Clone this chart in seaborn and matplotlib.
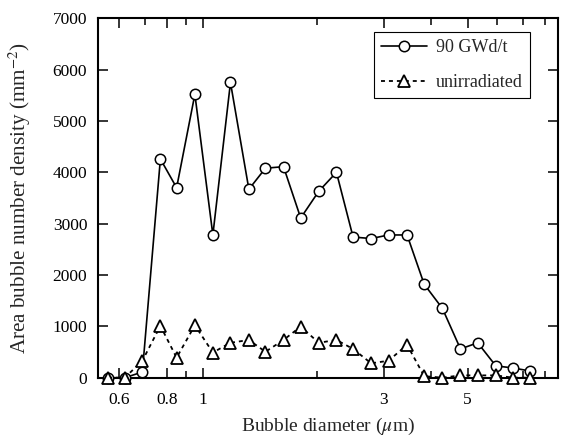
import numpy as np
import pandas as pd
import matplotlib
matplotlib.use("Agg")
import matplotlib.pyplot as plt
import matplotlib.ticker as mticker
import seaborn as sns

# ==================================================
# DATA
# ==================================================

diameter = [0.56, 0.62, 0.69, 0.77, 0.85, 0.95, 1.06, 1.18, 1.32, 1.46,
            1.63, 1.81, 2.02, 2.25, 2.49, 2.78, 3.09, 3.46, 3.84, 4.29,
            4.79, 5.32, 5.94, 6.59, 7.32]

density_90 = [0, 0, 110, 4260, 3700, 5520, 2780, 5750, 3670, 4080,
              4110, 3110, 3630, 4000, 2740, 2710, 2780, 2780, 1820, 1350,
              560, 680, 230, 190, 130]

density_unirr = [0, 0, 330, 1010, 390, 1020, 490, 680, 735, 505,
                 735, 995, 680, 735, 560, 280, 330, 640, 30, 0,
                 45, 45, 45, 0, 0]

major_x = [0.6, 0.8, 1, 3, 5]
minor_x = [0.7, 0.9, 2, 4, 6, 7, 8]

df = pd.DataFrame({
    "diameter": diameter,
    "irr": density_90,
    "unirr": density_unirr,
})

# ==================================================
# STYLE
# ==================================================

sns.set_theme(style="ticks")
plt.rcParams["font.family"] = ["Liberation Serif", "DejaVu Serif"]
plt.rcParams["mathtext.fontset"] = "stix"

fig = plt.figure(figsize=(5.67, 4.38), dpi=100)
ax = fig.add_axes([0.1734, 0.1377, 0.8102, 0.8205])

# ==================================================
# LINES
# ==================================================

sns.lineplot(
    data=df, x="diameter", y="irr", ax=ax,
    color="black", linewidth=1.2,
    marker="o", markersize=7.5,
    markerfacecolor="white", markeredgecolor="black", markeredgewidth=1.1,
    label="90 GWd/t", clip_on=False, zorder=3,
)

sns.lineplot(
    data=df, x="diameter", y="unirr", ax=ax,
    color="black", linewidth=1.3, linestyle=(0, (2.2, 2.2)),
    marker="^", markersize=8,
    markerfacecolor="white", markeredgecolor="black", markeredgewidth=1.3,
    label="unirradiated", clip_on=False, zorder=4,
)

# ==================================================
# AXES
# ==================================================

ax.set_xscale("log")
ax.set_xlim(0.5276, 8.66)
ax.set_ylim(0, 7000)

ax.xaxis.set_major_locator(mticker.FixedLocator(major_x))
ax.xaxis.set_major_formatter(mticker.FixedFormatter([str(v) for v in major_x]))
ax.xaxis.set_minor_locator(mticker.FixedLocator(minor_x))
ax.xaxis.set_minor_formatter(mticker.NullFormatter())
ax.yaxis.set_major_locator(mticker.MultipleLocator(1000))

ax.tick_params(which="both", direction="in", top=True, right=True,
               colors="black", labelsize=12.5, width=1.1)
ax.tick_params(which="major", length=7)
ax.tick_params(which="minor", length=5)
ax.tick_params(axis="x", which="major", pad=10)
ax.tick_params(axis="y", which="major", pad=8)

for side in ax.spines.values():
    side.set_linewidth(1.5)
    side.set_color("black")

ax.set_xlabel(r"Bubble diameter ($\mu$m)", fontsize=14, labelpad=6)
ax.set_ylabel(r"Area bubble number density (mm$^{-2}$)", fontsize=15.2,
              labelpad=14)

leg = ax.legend(
    loc="upper right", bbox_to_anchor=(0.94, 0.962), borderaxespad=0,
    frameon=True, fancybox=False, framealpha=1,
    edgecolor="black", fontsize=13, handlelength=2.55,
    handletextpad=0.5, borderpad=0.4, labelspacing=1.0,
)
leg.get_frame().set_linewidth(0.8)

fig.savefig("out.png", dpi=100)
plt.close(fig)
